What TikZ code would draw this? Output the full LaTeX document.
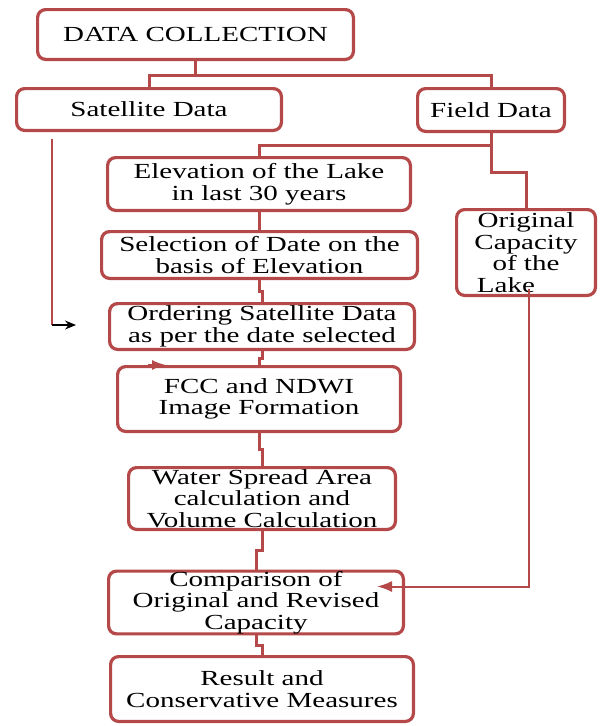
\documentclass[tikz,border=0pt]{standalone}
\usepackage{fontspec}
\setmainfont{Liberation Serif}[FakeStretch=1.35]
\usetikzlibrary{arrows.meta,calc}
\definecolor{boxred}{RGB}{181,72,72}
\begin{document}
\begin{tikzpicture}[x=1pt,y=-1pt,
  box/.style={draw=boxred, line width=3.2pt, rounded corners=8pt, fill=white,
    align=center, inner sep=0pt, text=black,
    font=\fontsize{21.5}{21.5}\selectfont},
  conn/.style={draw=boxred, line width=3pt},
  thinred/.style={draw=boxred, line width=2pt},
]
\useasboundingbox (0,0) rectangle (600,726);
% boxes
\node[box, minimum width=315.8pt, minimum height=49.8pt] (dc) at (195.5,34.5) {DATA COLLECTION};
\node[box, minimum width=264.8pt, minimum height=41.8pt] (sat) at (149,109.5) {Satellite Data};
\node[box, minimum width=146.8pt, minimum height=42.8pt] (field) at (491,110) {Field Data};
\node[box, minimum width=302.8pt, minimum height=52.8pt] (elev) at (259,184) {Elevation of the Lake\\in last 30 years};
\node[box, minimum width=315.8pt, minimum height=46.8pt] (sel) at (259.5,255) {Selection of Date on the\\basis of Elevation};
\node[box, minimum width=304.8pt, minimum height=45.8pt] (ord) at (262,326.5) {Ordering Satellite Data\\as per the date selected};
\node[box, minimum width=282.8pt, minimum height=64.8pt] (fcc) at (259,399) {FCC and NDWI\\Image Formation};
\node[box, minimum width=266.8pt, minimum height=61.8pt] (water) at (262,498.5) {Water Spread Area\\calculation and\\Volume Calculation};
\node[box, minimum width=294.8pt, minimum height=61.8pt] (comp) at (256,602.5) {Comparison of\\Original and Revised\\Capacity};
\node[box, minimum width=302.8pt, minimum height=64.8pt] (result) at (262,689) {Result and\\Conservative Measures};
\node[box, minimum width=138.8pt, minimum height=85.8pt] (orig) at (526,252.5) {Original\\Capacity\\of the\\\hspace*{-40pt}Lake};
% connectors
\draw[conn] (dc.south) -- (dc.south |- 0,75);
\draw[conn] (sat.north) -- (sat.north |- 0,75) -| (field.north);
\draw[conn] (field.south) -- (field.south |- 0,145) -| (elev.north);
\draw[conn] (field.south |- 0,145) -- (field.south |- 0,172) -| (orig.north);
\draw[conn] (elev.south) |- ($(elev.south)!.5!(sel.north)$) -| (sel.north);
\draw[conn] (sel.south) |- ($(sel.south)!.5!(ord.north)$) -| (ord.north);
\draw[conn] (ord.south) |- ($(ord.south)!.5!(fcc.north)$) -| (fcc.north);
\draw[conn] (fcc.south) |- ($(fcc.south)!.5!(water.north)$) -| (water.north);
\draw[conn] (water.south) |- ($(water.south)!.5!(comp.north)$) -| (comp.north);
\draw[conn] (comp.south) |- ($(comp.south)!.5!(result.north)$) -| (result.north);
% arrows
\draw[thinred, -{Latex[length=15pt,width=11pt]}] ([xshift=3pt,yshift=8pt]orig.south) |- ([xshift=-28pt,yshift=16pt]comp.east);
\draw[thinred, -{Latex[length=14pt,width=10pt]}] ([xshift=32pt]fcc.north west) -- ([xshift=50pt]fcc.north west);
\coordinate (sa) at ([xshift=-97pt,yshift=-7pt]sat.south);
\coordinate (sc) at (76,325);
\draw[draw=boxred, line width=1.5pt] (sa) -- (sa |- sc);
\draw[black, line width=1.5pt, -{Stealth[length=11pt,width=9pt]}] (sa |- sc) -- (sc);
\end{tikzpicture}
\end{document}
